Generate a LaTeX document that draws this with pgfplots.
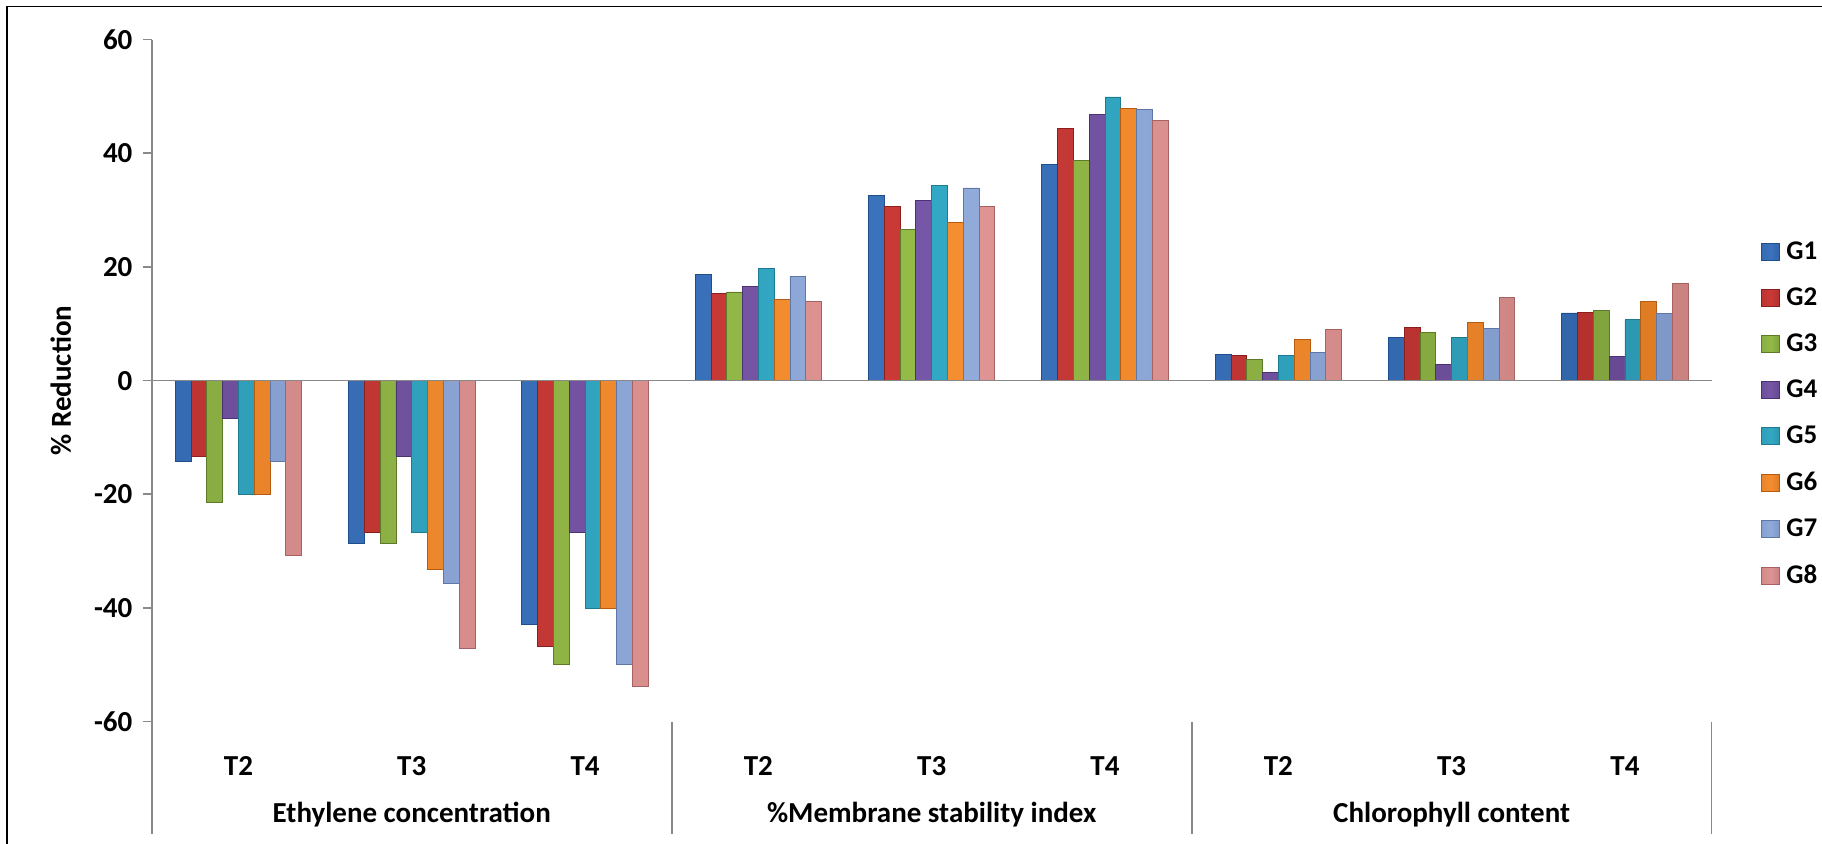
\documentclass[border=0pt]{standalone}
\usepackage{fontspec}
\setmainfont{Carlito}
\usepackage{pgfplots}
\usepackage{pgfplotstable}
\pgfplotsset{compat=1.18}

\definecolor{axgray}{HTML}{898989}
\definecolor{C1}{HTML}{3A72BC}\definecolor{D1}{HTML}{1F4E8C}
\definecolor{C2}{HTML}{C93A37}\definecolor{D2}{HTML}{8B1F1E}
\definecolor{C3}{HTML}{94BA48}\definecolor{D3}{HTML}{5D7A2A}
\definecolor{C4}{HTML}{7656A6}\definecolor{D4}{HTML}{4B3270}
\definecolor{C5}{HTML}{33A8C4}\definecolor{D5}{HTML}{1E7A91}
\definecolor{C6}{HTML}{F58E30}\definecolor{D6}{HTML}{B65C10}
\definecolor{C7}{HTML}{90AADA}\definecolor{D7}{HTML}{5E77A6}
\definecolor{C8}{HTML}{DE9492}\definecolor{D8}{HTML}{A66262}

\pgfplotstableread{
x   G1    G2    G3    G4    G5    G6    G7    G8
0  -14.3 -13.3 -21.4  -6.7 -20.0 -20.0 -14.3 -30.8
1  -28.6 -26.7 -28.6 -13.3 -26.7 -33.3 -35.7 -47.1
2  -42.9 -46.7 -50.0 -26.7 -40.0 -40.0 -50.0 -53.8
3   18.6  15.3  15.6  16.6  19.8  14.2  18.3  13.9
4   32.5  30.6  26.6  31.7  34.4  27.9  33.9  30.7
5   38.1  44.4  38.7  46.9  49.9  47.9  47.7  45.8
6    4.6   4.4   3.7   1.5   4.4   7.2   4.9   9.0
7    7.6   9.3   8.4   2.8   7.6  10.2   9.2  14.7
8   11.9  12.0  12.3   4.3  10.7  13.9  11.8  17.1
}\datatable

\newcommand{\tickfont}{\fontsize{14.5}{17}\selectfont\bfseries}
\pgfplotsset{
  gbar/.style args={#1/#2}{draw=#2, line width=0.4pt,
    left color=#1!80!#2, right color=#1!65!#2, middle color=#1},
}

\begin{document}
\begin{tikzpicture}
\path[use as bounding box] (-75.9pt,-61.2pt) rectangle (835.1pt,360.8pt);
\draw[black, line width=0.8pt] (-72.5pt,-61.2pt) -- (-72.5pt,357.5pt) -- (835.1pt,357.5pt);
\begin{axis}[
  name=ax, at={(0,0)}, anchor=south west,
  width=779.9pt, height=341pt, scale only axis,
  xmin=-0.5, xmax=8.5, ymin=-60, ymax=60,
  clip=false,
  separate axis lines,
  axis line style={draw=none},
  ybar=0pt, bar width=7.9pt,
  xtick={0,1,2,3,4,5,6,7,8},
  xticklabels={T2,T3,T4,T2,T3,T4,T2,T3,T4},
  xtick style={draw=none},
  xtick pos=bottom,
  ytick={-60,-40,-20,0,20,40,60},
  yticklabels={-60,-40,-20,0,20,40,60},
  ytick pos=left,
  tick align=outside,
  major tick length=4.5pt,
  ytick style={draw=axgray, line width=0.8pt},
  tick label style={font=\tickfont},
  yticklabel style={anchor=east, inner sep=0pt, xshift=-5pt},
  xticklabel style={anchor=base, inner sep=0pt, yshift=-22.7pt},
  ylabel={\% Reduction},
  every axis y label/.style={at={(axis description cs:-0.0583,0.5)}, rotate=90, anchor=center, font=\tickfont},
  legend style={at={(1.0278,0.451)}, anchor=west, draw=none, fill=none,
    font=\fontsize{13.5}{16}\selectfont\bfseries, row sep=12.7pt,
    nodes={inner sep=0pt}},
  legend cell align=left,
  /tikz/every odd column/.append style={column sep=3.5pt},
  legend image code/.code={\path[#1] (0pt,-4.3pt) rectangle (8.6pt,4.3pt);},
]
\addplot[gbar=C1/D1] table[x=x,y=G1]{\datatable};
\addplot[gbar=C2/D2] table[x=x,y=G2]{\datatable};
\addplot[gbar=C3/D3] table[x=x,y=G3]{\datatable};
\addplot[gbar=C4/D4] table[x=x,y=G4]{\datatable};
\addplot[gbar=C5/D5] table[x=x,y=G5]{\datatable};
\addplot[gbar=C6/D6] table[x=x,y=G6]{\datatable};
\addplot[gbar=C7/D7] table[x=x,y=G7]{\datatable};
\addplot[gbar=C8/D8] table[x=x,y=G8]{\datatable};
\legend{G1,G2,G3,G4,G5,G6,G7,G8}
\draw[axgray, line width=0.9pt] (axis cs:-0.5,0) -- (axis cs:8.5,0);
\draw[axgray, line width=0.9pt] (axis cs:-0.5,60) -- (axis cs:-0.5,-60) -- ([yshift=-56.2pt]axis cs:-0.5,-60);
\draw[axgray, line width=0.9pt] (axis cs:2.5,-60) -- ([yshift=-56.2pt]axis cs:2.5,-60);
\draw[axgray, line width=0.9pt] (axis cs:5.5,-60) -- ([yshift=-56.2pt]axis cs:5.5,-60);
\draw[axgray, line width=0.9pt] (axis cs:8.5,-60) -- ([yshift=-56.2pt]axis cs:8.5,-60);
\node[font=\tickfont, anchor=base, yshift=-50.7pt] at (axis cs:1,-60) {Ethylene concentration};
\node[font=\tickfont, anchor=base, yshift=-50.7pt] at (axis cs:4,-60) {\%Membrane stability index};
\node[font=\tickfont, anchor=base, yshift=-50.7pt] at (axis cs:7,-60) {Chlorophyll content};
\end{axis}
\end{tikzpicture}
\end{document}
